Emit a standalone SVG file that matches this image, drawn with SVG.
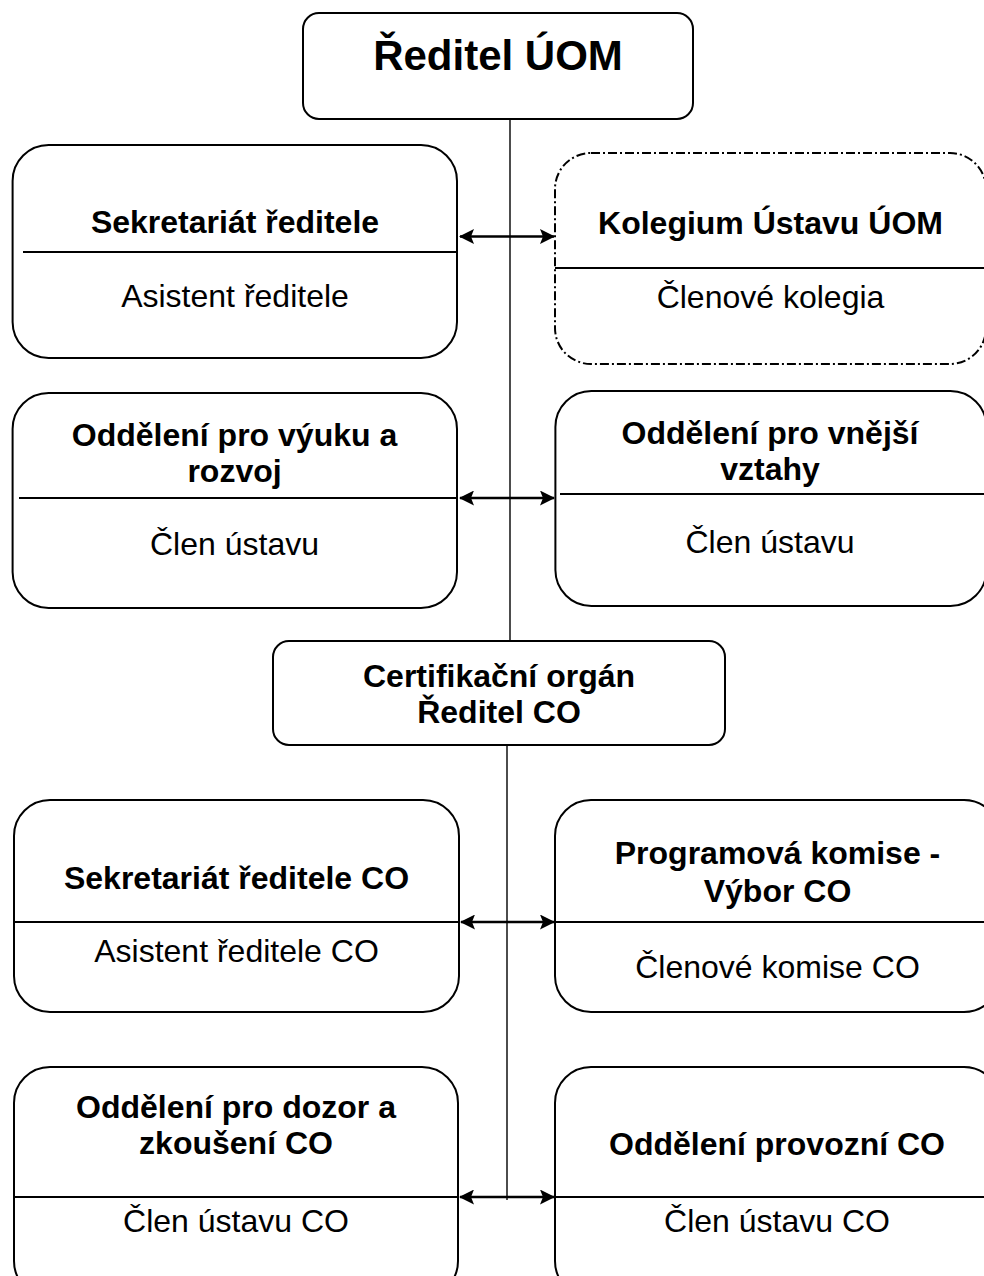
<svg xmlns="http://www.w3.org/2000/svg" width="984" height="1276" viewBox="0 0 984 1276">
<style>
.box{fill:#fff;stroke:#000;stroke-width:2}
.dash{stroke-dasharray:9 3 2 3}
.div{stroke:#000;stroke-width:2;fill:none}
.vl{stroke:#000;stroke-width:1.4;fill:none}
.arr{stroke:#000;stroke-width:2.6;fill:none;marker-start:url(#ah);marker-end:url(#ah)}
text{font-family:"Liberation Sans",Arial,sans-serif;fill:#000;text-anchor:middle}
.b{font-weight:bold;font-size:32px}
.r{font-size:32px}
.t{font-weight:bold;font-size:42px}
</style>
<defs>
<marker id="ah" viewBox="0 0 15 15" refX="14" refY="7.5" markerWidth="15" markerHeight="15" markerUnits="userSpaceOnUse" orient="auto-start-reverse">
<path d="M0,0 L15,7.5 L0,15 L3,7.5 z" fill="#000"/>
</marker>
</defs>
<rect width="984" height="1276" fill="#fff"/>
<g id="connectors">
<line class="vl" x1="510" y1="119" x2="510" y2="641"/>
<line class="vl" x1="507" y1="745" x2="507" y2="1200"/>
<line class="arr" x1="460" y1="236.5" x2="554" y2="236.5"/>
<line class="arr" x1="460" y1="498" x2="554" y2="498"/>
<line class="arr" x1="461" y1="922" x2="554" y2="922"/>
<line class="arr" x1="460" y1="1197" x2="554" y2="1197"/>
</g>
<g id="reditel-uom">
<rect class="box" x="303" y="13" width="390" height="106" rx="16"/>
<text class="t" x="498" y="70">Ředitel ÚOM</text>
</g>
<g id="sekretariat">
<rect class="box" x="12.6" y="145" width="444.4" height="213" rx="36"/>
<line class="div" x1="23" y1="252" x2="457" y2="252"/>
<text class="b" x="235" y="233">Sekretariát ředitele</text>
<text class="r" x="235" y="306.5">Asistent ředitele</text>
</g>
<g id="kolegium">
<rect class="box dash" x="555" y="153" width="431" height="211" rx="36"/>
<line class="div" x1="555" y1="268" x2="986" y2="268"/>
<text class="b" x="770.5" y="233.5">Kolegium Ústavu ÚOM</text>
<text class="r" x="770.5" y="308">Členové kolegia</text>
</g>
<g id="vyuka">
<rect class="box" x="12.6" y="393" width="444.4" height="215" rx="36"/>
<line class="div" x1="19" y1="498" x2="457" y2="498"/>
<text class="b" x="234.5" y="445.5">Oddělení pro výuku a</text>
<text class="b" x="234.5" y="481.5">rozvoj</text>
<text class="r" x="234.5" y="555">Člen ústavu</text>
</g>
<g id="vnejsi">
<rect class="box" x="555.4" y="391" width="431" height="215" rx="36"/>
<line class="div" x1="560" y1="494" x2="986" y2="494"/>
<text class="b" x="770" y="443.5">Oddělení pro vnější</text>
<text class="b" x="770" y="479.5">vztahy</text>
<text class="r" x="770" y="553">Člen ústavu</text>
</g>
<g id="certifikacni">
<rect class="box" x="273" y="641" width="452" height="104" rx="16"/>
<text class="b" x="499" y="686.5">Certifikační orgán</text>
<text class="b" x="499" y="723">Ředitel CO</text>
</g>
<g id="sekretariat-co">
<rect class="box" x="14" y="800" width="445" height="212" rx="36"/>
<line class="div" x1="14" y1="922" x2="459" y2="922"/>
<text class="b" x="236.5" y="888.5">Sekretariát ředitele CO</text>
<text class="r" x="236.5" y="961.5">Asistent ředitele CO</text>
</g>
<g id="programova">
<rect class="box" x="555" y="800" width="445" height="212" rx="36"/>
<line class="div" x1="555" y1="922" x2="1000" y2="922"/>
<text class="b" x="777.5" y="863.5">Programová komise -</text>
<text class="b" x="777.5" y="901.5">Výbor CO</text>
<text class="r" x="777.5" y="977.5">Členové komise CO</text>
</g>
<g id="dozor">
<rect class="box" x="14" y="1067" width="444" height="230" rx="36"/>
<line class="div" x1="14" y1="1197" x2="458" y2="1197"/>
<text class="b" x="236" y="1117.5">Oddělení pro dozor a</text>
<text class="b" x="236" y="1153.5">zkoušení CO</text>
<text class="r" x="236" y="1231.5">Člen ústavu CO</text>
</g>
<g id="provozni">
<rect class="box" x="555" y="1067" width="445" height="230" rx="36"/>
<line class="div" x1="555" y1="1197" x2="1000" y2="1197"/>
<text class="b" x="777" y="1154.5">Oddělení provozní CO</text>
<text class="r" x="777" y="1231.5">Člen ústavu CO</text>
</g>
</svg>
